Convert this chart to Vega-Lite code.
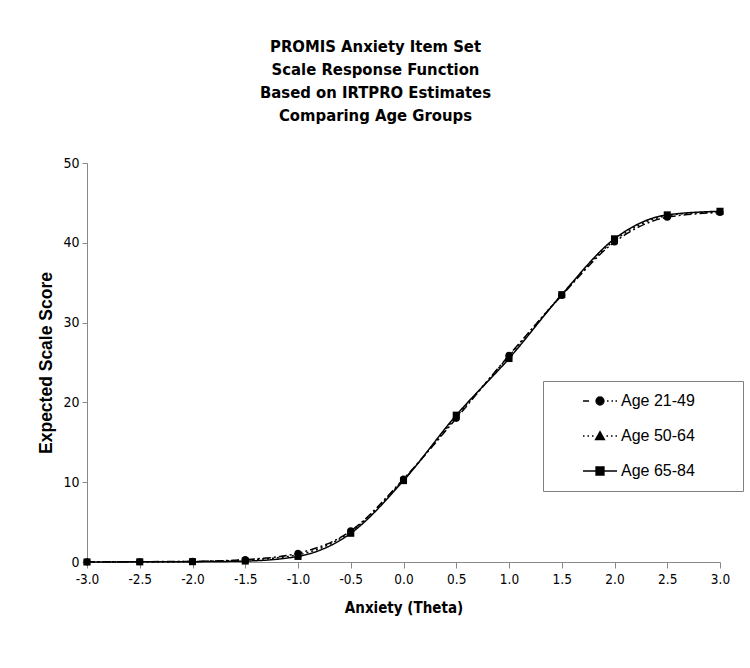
{
  "$schema": "https://vega.github.io/schema/vega-lite/v6.json",
  "width": 633,
  "height": 399,
  "autosize": {"type": "none"},
  "padding": {"left": 87, "top": 163, "right": 30, "bottom": 106},
  "background": "white",
  "title": {
    "text": ["PROMIS Anxiety Item Set", "Scale Response Function", "Based on IRTPRO Estimates", "Comparing Age Groups"],
    "anchor": "middle",
    "frame": "group",
    "dx": -28,
    "offset": 32,
    "font": "DejaVu Sans Condensed, sans-serif",
    "fontSize": 16.5,
    "fontWeight": "bold",
    "lineHeight": 23,
    "color": "#000"
  },
  "data": {
    "values": [
      {"theta": -3.0, "score": 0.02, "group": "Age 21-49"},
      {"theta": -2.5, "score": 0.04, "group": "Age 21-49"},
      {"theta": -2.0, "score": 0.08, "group": "Age 21-49"},
      {"theta": -1.5, "score": 0.3, "group": "Age 21-49"},
      {"theta": -1.0, "score": 1.1, "group": "Age 21-49"},
      {"theta": -0.5, "score": 3.9, "group": "Age 21-49"},
      {"theta": 0.0, "score": 10.4, "group": "Age 21-49"},
      {"theta": 0.5, "score": 18.0, "group": "Age 21-49"},
      {"theta": 1.0, "score": 25.9, "group": "Age 21-49"},
      {"theta": 1.5, "score": 33.4, "group": "Age 21-49"},
      {"theta": 2.0, "score": 40.1, "group": "Age 21-49"},
      {"theta": 2.5, "score": 43.2, "group": "Age 21-49"},
      {"theta": 3.0, "score": 43.8, "group": "Age 21-49"},
      {"theta": -3.0, "score": 0.01, "group": "Age 50-64"},
      {"theta": -2.5, "score": 0.03, "group": "Age 50-64"},
      {"theta": -2.0, "score": 0.06, "group": "Age 50-64"},
      {"theta": -1.5, "score": 0.25, "group": "Age 50-64"},
      {"theta": -1.0, "score": 0.9, "group": "Age 50-64"},
      {"theta": -0.5, "score": 3.8, "group": "Age 50-64"},
      {"theta": 0.0, "score": 10.3, "group": "Age 50-64"},
      {"theta": 0.5, "score": 18.2, "group": "Age 50-64"},
      {"theta": 1.0, "score": 25.8, "group": "Age 50-64"},
      {"theta": 1.5, "score": 33.5, "group": "Age 50-64"},
      {"theta": 2.0, "score": 40.3, "group": "Age 50-64"},
      {"theta": 2.5, "score": 43.4, "group": "Age 50-64"},
      {"theta": 3.0, "score": 43.9, "group": "Age 50-64"},
      {"theta": -3.0, "score": 0.0, "group": "Age 65-84"},
      {"theta": -2.5, "score": 0.02, "group": "Age 65-84"},
      {"theta": -2.0, "score": 0.04, "group": "Age 65-84"},
      {"theta": -1.5, "score": 0.12, "group": "Age 65-84"},
      {"theta": -1.0, "score": 0.7, "group": "Age 65-84"},
      {"theta": -0.5, "score": 3.6, "group": "Age 65-84"},
      {"theta": 0.0, "score": 10.2, "group": "Age 65-84"},
      {"theta": 0.5, "score": 18.4, "group": "Age 65-84"},
      {"theta": 1.0, "score": 25.5, "group": "Age 65-84"},
      {"theta": 1.5, "score": 33.5, "group": "Age 65-84"},
      {"theta": 2.0, "score": 40.5, "group": "Age 65-84"},
      {"theta": 2.5, "score": 43.5, "group": "Age 65-84"},
      {"theta": 3.0, "score": 43.95, "group": "Age 65-84"}
    ]
  },
  "encoding": {
    "x": {
      "field": "theta",
      "type": "quantitative",
      "scale": {"domain": [-3, 3], "nice": false, "zero": false},
      "axis": {
        "title": "Anxiety (Theta)",
        "values": [-3, -2.5, -2, -1.5, -1, -0.5, 0, 0.5, 1, 1.5, 2, 2.5, 3],
        "format": ".1f",
        "labelExpr": "replace(datum.label, '−', '-')",
        "grid": false,
        "domainColor": "#888",
        "tickColor": "#888",
        "tickSize": 6,
        "labelPadding": 4,
        "labelFont": "DejaVu Sans Condensed, sans-serif",
        "labelFontSize": 13.5,
        "labelColor": "#000",
        "labelFlush": false,
        "titleFont": "DejaVu Sans Condensed, sans-serif",
        "titleFontSize": 15,
        "titleFontWeight": "bold",
        "titleColor": "#000",
        "titlePadding": 15
      }
    },
    "y": {
      "field": "score",
      "type": "quantitative",
      "scale": {"domain": [0, 50], "nice": false},
      "axis": {
        "title": "Expected Scale Score",
        "values": [0, 10, 20, 30, 40, 50],
        "grid": false,
        "domainColor": "#888",
        "tickColor": "#888",
        "tickSize": 5,
        "labelPadding": 3,
        "labelFont": "DejaVu Sans Condensed, sans-serif",
        "labelFontSize": 14,
        "labelColor": "#000",
        "labelFlush": false,
        "titleFont": "Liberation Sans, Arial, sans-serif",
        "titleFontSize": 17.5,
        "titleFontWeight": "bold",
        "titleColor": "#000",
        "titlePadding": 7
      }
    }
  },
  "layer": [
    {
      "mark": {"type": "line", "interpolate": "monotone", "color": "#000", "strokeWidth": 1.5},
      "encoding": {
        "detail": {"field": "group"},
        "strokeDash": {
          "field": "group",
          "type": "nominal",
          "scale": {"domain": ["Age 21-49", "Age 50-64", "Age 65-84"], "range": [[8, 3, 2, 3], [2, 3], [1, 0]]},
          "legend": null
        }
      }
    },
    {
      "mark": {"type": "point", "filled": true, "color": "#000", "opacity": 1, "size": 50},
      "encoding": {
        "shape": {
          "field": "group",
          "type": "nominal",
          "scale": {"domain": ["Age 21-49", "Age 50-64", "Age 65-84"], "range": ["circle", "triangle-up", "square"]},
          "legend": null
        }
      }
    },
    {
      "mark": {"type": "point", "filled": false, "color": "#000", "strokeWidth": 1.3, "opacity": 0, "size": 100},
      "encoding": {
        "shape": {
          "field": "group",
          "type": "nominal",
          "scale": {
            "domain": ["Age 21-49", "Age 50-64", "Age 65-84"],
            "range": [
              "M-3.4,0L-2.2,0M-0.8,0A0.8,0.8 0 1,0 0.8,0A0.8,0.8 0 1,0 -0.8,0ZM-0.55,0A0.55,0.55 0 1,0 0.55,0A0.55,0.55 0 1,0 -0.55,0ZM-0.3,0A0.3,0.3 0 1,0 0.3,0A0.3,0.3 0 1,0 -0.3,0ZM-0.08,0A0.08,0.08 0 1,0 0.08,0A0.08,0.08 0 1,0 -0.08,0ZM1.4,0L1.7,0M2.3,0L2.6,0M3.1,0L3.4,0",
              "M-3.4,0L-3.1,0M-2.5,0L-2.2,0M-1.6,0L-1.3,0M0,-0.9L0.9,0.7L-0.9,0.7ZM0,-0.54L0.59,0.52L-0.59,0.52ZM0,-0.18L0.3,0.35L-0.3,0.35ZM0,0.1L0.08,0.25L-0.08,0.25ZM1.3,0L1.6,0M2.2,0L2.5,0M3.1,0L3.4,0",
              "M-3.4,0L3.4,0M-0.8,-0.8L0.8,-0.8L0.8,0.8L-0.8,0.8ZM-0.55,-0.55L0.55,-0.55L0.55,0.55L-0.55,0.55ZM-0.3,-0.3L0.3,-0.3L0.3,0.3L-0.3,0.3ZM-0.08,-0.08L0.08,-0.08L0.08,0.08L-0.08,0.08Z"
            ]
          },
          "legend": {
            "title": null,
            "orient": "none",
            "legendX": 456,
            "legendY": 218,
            "strokeColor": "#808080",
            "fillColor": "#fff",
            "padding": 12,
            "rowPadding": 19,
            "symbolSize": 100,
            "symbolOffset": 37,
            "labelOffset": 13,
            "symbolOpacity": 1,
            "labelFont": "Liberation Sans, Arial, sans-serif",
            "labelFontSize": 16,
            "labelColor": "#000",
            "symbolStrokeColor": "#000",
            "symbolStrokeWidth": 1.3,
            "labelExpr": "datum.label + '\u2800\u2800\u2800'"
          }
        }
      }
    }
  ],
  "resolve": {"scale": {"shape": "independent"}, "legend": {"shape": "independent", "strokeDash": "independent"}},
  "config": {
    "view": {"stroke": null},
    "axis": {"domainWidth": 1, "tickWidth": 1}
  }
}
